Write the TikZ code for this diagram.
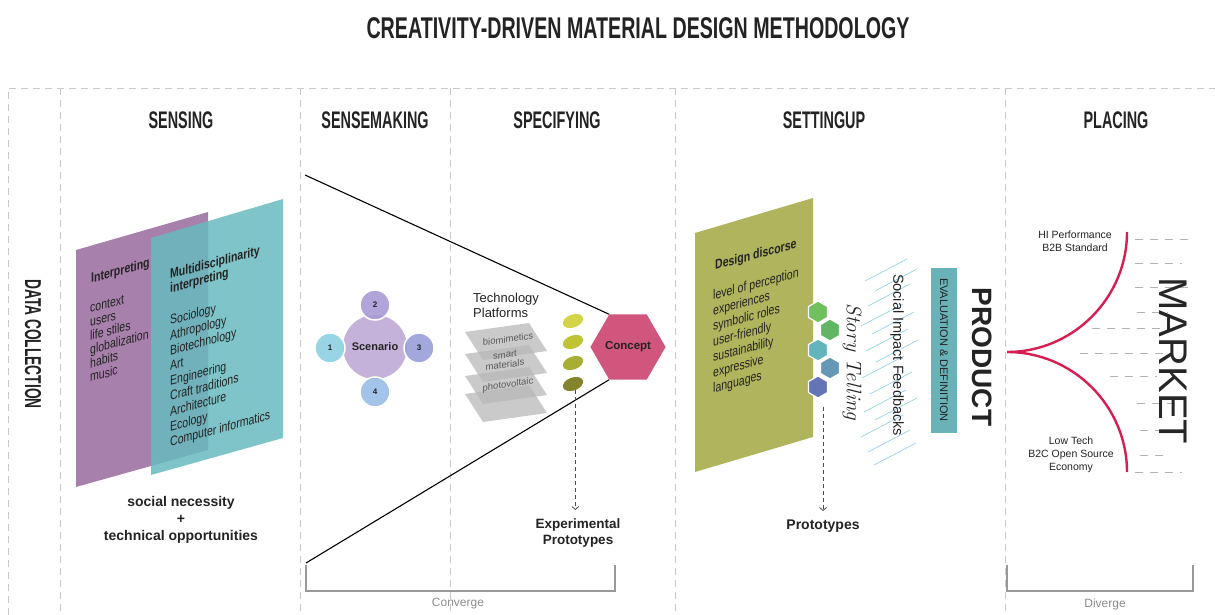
\documentclass[tikz,border=0pt]{standalone}
\usepackage{fontspec}
\setmainfont{Liberation Sans}
\newfontfamily\storyfont{Latin Modern Roman}
\usetikzlibrary{shapes.geometric,arrows.meta}

\definecolor{framegray}{RGB}{200,200,200}
\definecolor{inkgray}{RGB}{35,35,35}
\definecolor{mauve}{RGB}{168,128,172}
\definecolor{panelteal}{RGB}{104,186,190}
\definecolor{paneloliv}{RGB}{176,180,92}
\definecolor{conceptpink}{RGB}{208,86,126}
\definecolor{lilac}{RGB}{196,178,218}
\definecolor{ballcyan}{RGB}{140,208,226}
\definecolor{ballpurple}{RGB}{168,154,212}
\definecolor{ballblue}{RGB}{152,158,216}
\definecolor{ballsky}{RGB}{152,190,230}
\definecolor{seed1}{RGB}{212,212,72}
\definecolor{seed2}{RGB}{192,196,52}
\definecolor{seed3}{RGB}{168,174,52}
\definecolor{seed4}{RGB}{132,132,44}
\definecolor{cell1}{RGB}{112,192,94}
\definecolor{cell2}{RGB}{96,182,98}
\definecolor{cell3}{RGB}{100,180,188}
\definecolor{cell4}{RGB}{100,152,182}
\definecolor{cell5}{RGB}{100,116,182}
\definecolor{marketred}{RGB}{214,30,82}
\definecolor{hatchblue}{RGB}{150,210,232}
\definecolor{evalteal}{RGB}{104,178,184}

\newcommand\narrow[1]{\scalebox{0.6}[1]{#1}}

\begin{document}
\begin{tikzpicture}[x=1pt,y=-1pt,
  every node/.style={inner sep=0pt,text=inkgray},
  frame/.style={framegray,line width=0.8pt,dash pattern=on 7pt off 5pt},
  heading/.style={font=\fontsize{24}{24}\selectfont\bfseries},
  paneltext/.style={anchor=base west,yslant=0.27,xscale=0.78,font=\fontsize{13.5}{14}\selectfont},
  panelhead/.style={paneltext,font=\fontsize{13.5}{14}\selectfont\bfseries},
  funnel/.style={black,line width=1.1pt},
  layer/.style={fill=black!28,fill opacity=0.75},
  layertext/.style={yslant=0.14,font=\fontsize{9.5}{10}\selectfont,text=black!65},
  seed/.style={ellipse,minimum width=21pt,minimum height=13pt,rotate=20},
  ball/.style={circle,minimum size=30pt,draw=white,line width=1.5pt,fill opacity=0.9,text opacity=1,font=\fontsize{8}{8}\selectfont\bfseries},
  cell/.style={regular polygon,regular polygon sides=6,shape border rotate=30,minimum size=22pt,draw=white,line width=1.2pt},
  dasharrow/.style={black!70,line width=0.8pt,dash pattern=on 4pt off 3pt,-{Straight Barb[length=3pt,width=7pt]},shorten >=9pt},
  bigbold/.style={font=\fontsize{14}{17}\selectfont\bfseries,align=center},
  hatch/.style={hatchblue,line width=0.7pt},
  marketdash/.style={black!30,line width=0.9pt,dash pattern=on 8pt off 7pt},
  bracket/.style={black!40,line width=1.2pt},
  note/.style={font=\fontsize{12}{12}\selectfont,text=black!45}
]
\useasboundingbox (0,0) rectangle (1215,615);

% frame
\draw[frame] (8,615) -- (8,88) -- (1215,88);
\foreach \x in {60,300,450,675,1005}
  \draw[frame] (\x,88) -- (\x,615);

% titles
\node[font=\fontsize{30}{30}\selectfont\bfseries] (title) at (638,28) {\scalebox{0.655}[1]{CREATIVITY-DRIVEN MATERIAL DESIGN METHODOLOGY}};
\foreach \x/\t in {181/SENSING,375/SENSEMAKING,557/SPECIFYING,824/SETTINGUP,1116/PLACING}
  \node[heading] (\t) at (\x,120) {\narrow{\t}};
\node[heading,font=\fontsize{23}{23}\selectfont\bfseries,rotate=-90] (data) at (33,344) {\narrow{DATA COLLECTION}};

% sensing
\fill[mauve] (76,250) -- (208,212) -- (208,450) -- (76,487) -- cycle;
\node[panelhead] (interp) at (91,283) {Interpreting};
\foreach \t [count=\i from 0] in {context,users,life stiles,globalization,habits,music}
  \node[paneltext] (p\i) at (90,{313+13.8*\i}) {\t};
\fill[panelteal,fill opacity=0.85] (151,238) -- (283,199) -- (283,438) -- (151,475) -- cycle;
\node[panelhead] (multi) at (170,279) {Multidisciplinarity};
\node[panelhead] (multi2) at (170,293) {interpreting};
\foreach \t [count=\i from 0] in {Sociology,Athropology,Biotechnology,Art,Engineering,Craft traditions,Architecture,Ecology,Computer informatics}
  \node[paneltext] (m\i) at (170,{325+15.2*\i}) {\t};
\node[bigbold] (needs) at (181,520) {social necessity\\+\\technical opportunities};

% sensemaking
\node[circle,minimum size=64pt,fill=lilac,font=\fontsize{11}{11}\selectfont\bfseries] (scen) at (375,347) {Scenario};
\node[ball,fill=ballcyan] (b1) at (330,348) {1};
\node[ball,fill=ballpurple] (b2) at (375,305) {2};
\node[ball,fill=ballblue] (b3) at (419,348) {3};
\node[ball,fill=ballsky] (b4) at (375,392) {4};

\node[regular polygon,regular polygon sides=6,minimum size=69pt,fill=conceptpink,font=\fontsize{11.5}{12}\selectfont\bfseries] (concept) at (628,347) {Concept};
\coordinate (ftop) at (305,175);
\coordinate (fbot) at (306,563);
\draw[funnel] (ftop) -- (concept.corner 2);
\draw[funnel] (fbot) -- (concept.corner 4);

% specifying
\node[anchor=north west,align=left,font=\fontsize{13}{15}\selectfont] (tech) at (473,293) {Technology\\Platforms};
\foreach \d in {0,22,44,62}
  \fill[layer] (465,{332+\d}) -- (529,{323+\d}) -- (547,{351+\d}) -- (483,{360+\d}) -- cycle;
\node[layertext] (bio) at (508,339) {biomimetics};
\node[layertext,align=center] (smart) at (505,360) {smart\\materials};
\node[layertext] (pv) at (508,385) {photovoltaic};
\foreach \c [count=\i] in {seed1,seed2,seed3,seed4}
  \node[seed,fill=\c] (e\i) at (573,{300+21*\i}) {};
\node[bigbold,anchor=north,font=\fontsize{13.5}{16}\selectfont\bfseries] (exp) at (578,519) {Experimental\\Prototypes};
\draw[dasharrow] (e4.south) -- (e4.south |- exp.north);

% settingup
\fill[paneloliv] (695,233) -- (813,198) -- (813,437) -- (695,472) -- cycle;
\node[panelhead] (disc) at (715,270) {Design discorse};
\foreach \t [count=\i from 0] in {level of perception,experiences,symbolic roles,user-friendly,sustainability,expressive,languages}
  \node[paneltext] (d\i) at (713,{300+15.5*\i}) {\t};
\foreach \x/\y/\c [count=\i] in {818/312/cell1,830/330/cell2,818/350/cell3,830/368/cell4,818/387/cell5}
  \node[cell,fill=\c] (c\i) at (\x,\y) {};
\node[bigbold,anchor=north] (proto) at (823,520) {Prototypes};
\draw[dasharrow,shorten <=8pt] (proto.north |- c5.south) -- (proto.north);

\foreach \x/\y in {865/281,875/291,868/306,861/326,872/334,866/351,876/362,862/378,870/394,864/412,875/420,861/437,868/452,874/465}
  \draw[hatch] (\x,\y) -- ++(42,-22);
\node[rotate=-90,font=\storyfont\fontsize{21}{21}\selectfont\itshape] (story) at (852,362) {Story Telling};
\node[rotate=-90,font=\fontsize{14.5}{15}\selectfont] (social) at (897,355) {Social Impact Feedbacks};
\node[rotate=-90,fill=evalteal,minimum width=165pt,minimum height=26pt,font=\fontsize{11}{11}\selectfont] (eval) at (944,350) {EVALUATION \& DEFINITION};
\node[rotate=-90,font=\fontsize{28}{28}\selectfont\bfseries] (product) at (982,357) {PRODUCT};

% placing
\coordinate (fork) at (1007,352);
\coordinate (hiend) at (1127,232);
\coordinate (lowend) at (1127,472);
\draw[marketred,line width=2.4pt] (fork) .. controls (1073,352) and (1127,298) .. (hiend);
\draw[marketred,line width=2.4pt] (fork) .. controls (1073,352) and (1127,406) .. (lowend);
\foreach \a/\b/\y in {1135/1195/239,1135/1182/263,1135/1195/287,1137/1168/312,1092/1168/328,1080/1168/353,1110/1157/376,1137/1180/403,1140/1182/430,1140/1167/455,1135/1182/472}
  \draw[marketdash] (\a,\y) -- (\b,\y);
\node[rotate=-90,font=\fontsize{40}{40}\selectfont,text=black!85] (market) at (1173,361) {MARKET};
\node[align=center,font=\fontsize{10.5}{13}\selectfont] (hi) at (1075,241) {HI Performance\\B2B Standard};
\node[align=center,font=\fontsize{10.5}{13}\selectfont] (low) at (1071,455) {Low Tech\\B2C Open Source\\Economy};

% brackets
\draw[bracket] (306,565) -- (306,591) -- (615,591) -- (615,565);
\node[note] (conv) at (458,604) {Converge};
\draw[bracket] (1007,565) -- (1007,591) -- (1193,591) -- (1193,565);
\node[note] (div) at (1105,604) {Diverge};
\end{tikzpicture}
\end{document}
